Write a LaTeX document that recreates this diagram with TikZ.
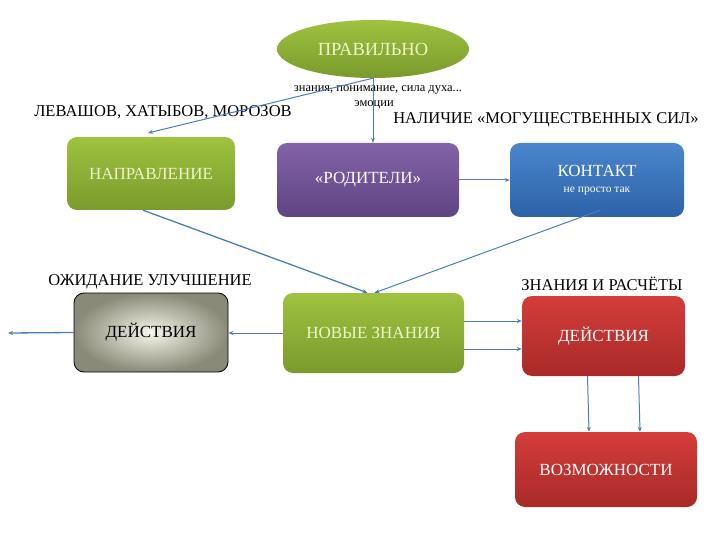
\documentclass[tikz,border=0pt]{standalone}
\usepackage{fontspec}
\setmainfont{Liberation Serif}
\usetikzlibrary{shapes.geometric,arrows.meta,calc,shadows}
\definecolor{arr}{HTML}{4A7EBB}
\definecolor{gtop}{HTML}{9FC23F}
\definecolor{gbot}{HTML}{7A9A2C}
\definecolor{ptop}{HTML}{8463A8}
\definecolor{pbot}{HTML}{5E4482}
\definecolor{btop}{HTML}{4A86CC}
\definecolor{bbot}{HTML}{2D62A8}
\definecolor{rtop}{HTML}{D43D3A}
\definecolor{rbot}{HTML}{A82A28}
\definecolor{gtext}{HTML}{EEF7C8}
\definecolor{grayin}{HTML}{F6F6EA}
\definecolor{grayout}{HTML}{8A8A78}
\tikzset{
  box/.style={rounded corners=10pt, minimum width=#1, align=center, inner sep=2pt},
  bigfont/.style={font=\fontsize{17}{19}\selectfont},
  greenbox/.style={box=#1, top color=gtop, bottom color=gbot, text=gtext, bigfont},
  purplebox/.style={box=#1, top color=ptop, bottom color=pbot, text=white, bigfont},
  bluebox/.style={box=#1, top color=btop, bottom color=bbot, text=white, bigfont},
  redbox/.style={box=#1, top color=rtop, bottom color=rbot, text=white, bigfont},
  graybox/.style={box=#1, draw=black, line width=0.8pt, inner color=grayin, outer color=grayout, text=black, bigfont},
  lbl/.style={text=black, font=\fontsize{16.5}{18}\selectfont, inner sep=0pt},
  small/.style={text=black, font=\fontsize{12.5}{14}\selectfont, inner sep=0pt},
  conn/.style={draw=arr, line width=1pt, -{Stealth[length=5pt,width=4pt]}},
}
\begin{document}
\begin{tikzpicture}[x=1pt,y=-1pt]
\useasboundingbox (0,0) rectangle (720,540);
% nodes
\node[ellipse, minimum width=192pt, minimum height=58pt, top color=gtop, bottom color=gbot, text=gtext, font=\fontsize{18.5}{20}\selectfont] (ell) at (373,49) {ПРАВИЛЬНО};
\node[greenbox=168pt, minimum height=73pt] (napr) at (151,173.5) {НАПРАВЛЕНИЕ};
\node[purplebox=182pt, minimum height=74pt] (rod) at (368,180) {«РОДИТЕЛИ»};
\node[bluebox=174pt, minimum height=74pt] (kont) at (597,180) {КОНТАКТ\\[-3pt]{\fontsize{11.5}{12}\selectfont не просто так}};
\node[greenbox=181pt, minimum height=80pt] (nov) at (373.5,333) {НОВЫЕ ЗНАНИЯ};
\node[redbox=163pt, minimum height=80pt] (deyR) at (603.5,336) {ДЕЙСТВИЯ};
\node[graybox=154pt, minimum height=79pt] (deyG) at (151,332.5) {ДЕЙСТВИЯ};
\node[redbox=182pt, minimum height=75pt] (voz) at (606,469.5) {ВОЗМОЖНОСТИ};
% labels
\node[lbl] (l1) at (163,112) {ЛЕВАШОВ, ХАТЫБОВ, МОРОЗОВ};
\node[lbl] (l2) at (546,120) {НАЛИЧИЕ «МОГУЩЕСТВЕННЫХ СИЛ»};
\node[small] (l3) at (378,90) {знания, понимание, сила духа...};
\node[small] (l4) at (374,105) {эмоции};
\node[lbl] (l5) at (150,282) {ОЖИДАНИЕ УЛУЧШЕНИЕ};
\node[lbl] (l6) at (602,284) {ЗНАНИЯ И РАСЧЁТЫ};
% coordinates
\coordinate (c1) at (148,133);
\coordinate (c2) at (8,333);
% connectors
\draw[conn] (ell.south) -- (ell.south |- rod.north);
\draw[conn] (ell.south) -- (c1);
\draw[conn] (rod.east) -- (kont.west);
\draw[conn, line width=1.3pt] ([xshift=-8pt]napr.south) -- ([xshift=-6pt]nov.north);
\draw[conn] ([xshift=3pt,yshift=7pt]kont.south) -- ([xshift=1pt]nov.north);
\draw[conn] (nov.west) -- (nov.west -| deyG.east);
\draw[conn, line width=1.3pt] (deyG.west) -- (c2);
\draw[conn] ([yshift=12pt]nov.east) -- ([yshift=12pt]nov.east -| deyR.west);
\draw[conn] ([yshift=-16pt]nov.east) -- ([yshift=-16pt]nov.east -| deyR.west);
\draw[conn] ([xshift=-16pt]deyR.south) -- ([xshift=-17pt]voz.north);
\draw[conn] ([xshift=35pt]deyR.south) -- ([xshift=34pt]voz.north);
\end{tikzpicture}
\end{document}
